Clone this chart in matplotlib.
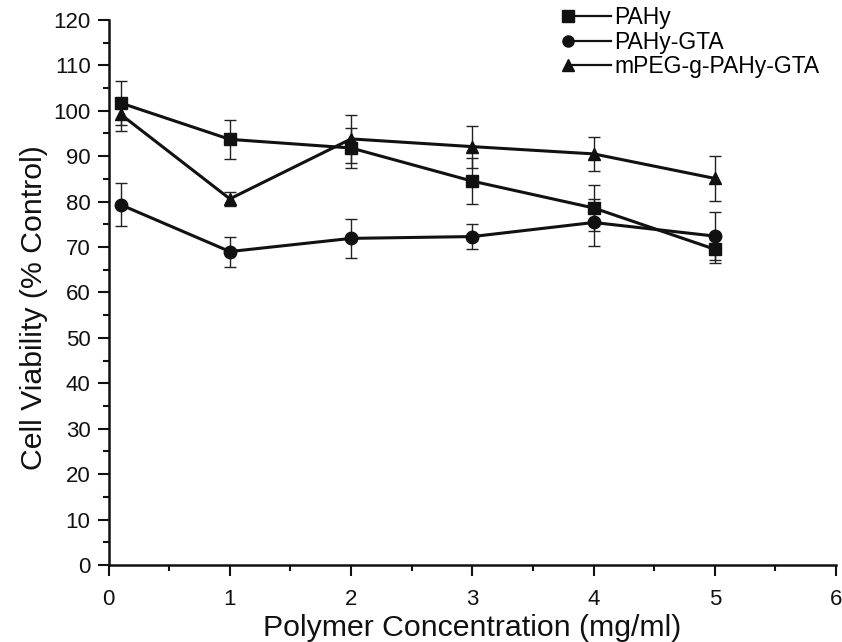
import matplotlib
matplotlib.use('Agg')
import matplotlib.pyplot as plt
from matplotlib.lines import Line2D
from matplotlib.legend_handler import HandlerLine2D
from matplotlib.ticker import MultipleLocator

plt.rcParams['font.family'] = ['Liberation Sans', 'DejaVu Sans']

# data
conc = [0.1, 1, 2, 3, 4, 5]
labels = ['PAHy', 'PAHy-GTA', 'mPEG-g-PAHy-GTA']
markers = ['s', 'o', '^']

pahy = [101.7, 93.7, 91.8, 84.5, 78.6, 69.5]
pahy_err = [4.8, 4.3, 4.4, 5.0, 5.1, 3.0]

pahy_gta = [79.3, 69.0, 71.9, 72.3, 75.4, 72.4]
pahy_gta_err = [4.7, 3.3, 4.3, 2.8, 5.2, 5.3]

mpeg = [99.2, 80.6, 93.8, 92.1, 90.5, 85.1]
mpeg_err = [3.7, 1.5, 5.2, 4.6, 3.8, 5.0]

series = [(pahy, pahy_err), (pahy_gta, pahy_gta_err), (mpeg, mpeg_err)]


# legend handle with the marker at the left end of the line only
class MarkerFirst(HandlerLine2D):
    def create_artists(self, *args, **kwargs):
        artists = super().create_artists(*args, **kwargs)
        for a in artists:
            a.set_markevery([0])
        return artists


fig = plt.figure(figsize=(8.42, 6.42), dpi=100)
ax = fig.add_axes([0.129, 0.12, 0.864, 0.849])

handles = []
for (y, err), m, lab in zip(series, markers, labels):
    ax.errorbar(conc, y, yerr=err, fmt='none', ecolor='#222222',
                elinewidth=1.0, capsize=4, capthick=1.0, zorder=2)
    ax.plot(conc, y, color='#111111', lw=2.2, marker=m, markersize=9,
            zorder=3)
    handles.append(Line2D([], [], color='#111111', lw=1.6,
                          marker=m, markersize=8, label=lab))

ax.set_xlim(0, 6)
ax.set_ylim(0, 120)
ax.xaxis.set_major_locator(MultipleLocator(1))
ax.xaxis.set_minor_locator(MultipleLocator(0.5))
ax.yaxis.set_major_locator(MultipleLocator(10))
ax.yaxis.set_minor_locator(MultipleLocator(5))

for side in ['top', 'right']:
    ax.spines[side].set_visible(False)
for side in ['left', 'bottom']:
    ax.spines[side].set_linewidth(1.8)
    ax.spines[side].set_color('#111111')

ax.tick_params(which='major', direction='out', length=8, width=1.5,
               labelsize=16, colors='#111111', pad=5)
ax.tick_params(axis='x', which='major', pad=9)
ax.tick_params(which='minor', direction='out', length=4.5, width=1.5,
               colors='#111111')

ax.set_xlabel('Polymer Concentration (mg/ml)', fontsize=21.8, labelpad=3,
              color='#111111')
ax.set_ylabel('Cell Viability (% Control)', fontsize=21.8,
              color='#111111')
ax.yaxis.set_label_coords(-0.083, 0.473)

ax.legend(handles=handles, loc='upper left', bbox_to_anchor=(0.667, 0.99),
          bbox_transform=fig.transFigure, frameon=False, fontsize=16.5,
          numpoints=2, handlelength=2.45, handletextpad=-0.15,
          labelspacing=0.06, borderaxespad=0.0, borderpad=0.0,
          handler_map={Line2D: MarkerFirst()})

fig.savefig('out.png', dpi=100)
